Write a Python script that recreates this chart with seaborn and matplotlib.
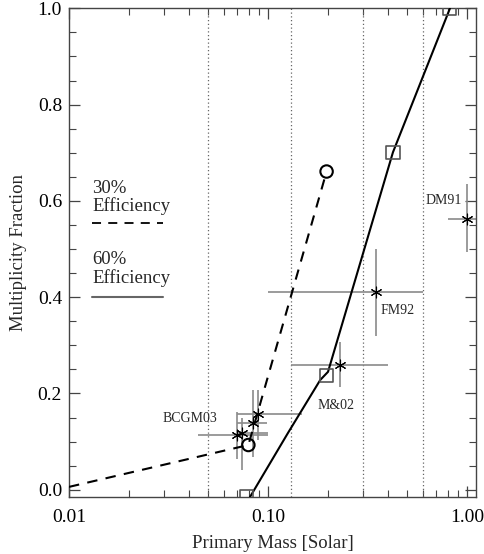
import numpy as np
import pandas as pd
import matplotlib
matplotlib.use("Agg")
import matplotlib.pyplot as plt
import seaborn as sns
from matplotlib.ticker import FixedLocator, LogLocator, NullFormatter, MultipleLocator

# Model curves (30% and 60% detection efficiency)
model30_mass = [0.01, 0.0797, 0.197]
model30_frac = [0.006, 0.093, 0.661]
model60_mass = [0.0812, 0.126, 0.183, 0.2003, 0.4246, 0.8214]
model60_frac = [-0.015, 0.118, 0.228, 0.245, 0.701, 1.0]

# Model points on the curves
circle_mass = [0.0797, 0.197]
circle_frac = [0.093, 0.661]
square_mass = [0.078, 0.1974, 0.425, 0.82]
square_frac = [-0.015, 0.238, 0.70, 1.0]

# Observed multiplicity fractions with error ranges
obs_mass = [0.0696, 0.0738, 0.0844, 0.0887, 0.230, 0.349, 1.0]
obs_mass_lo = [0.0447, 0.0696, 0.0696, 0.0696, 0.130, 0.1003, 0.805]
obs_mass_hi = [0.1003, 0.1003, 0.0985, 0.148, 0.40, 0.603, 1.2]
obs_frac = [0.114, 0.117, 0.138, 0.157, 0.259, 0.411, 0.562]
obs_frac_lo = [0.064, 0.042, 0.069, 0.103, 0.214, 0.319, 0.494]
obs_frac_hi = [0.162, 0.150, 0.207, 0.207, 0.307, 0.501, 0.636]

# Survey labels
survey_names = ["BCGM03", "M&02", "FM92", "DM91"]
survey_x = [0.0555, 0.2197, 0.447, 0.760]
survey_y = [0.148, 0.176, 0.373, 0.601]

# Vertical reference lines
ref_mass = [0.05, 0.13, 0.3, 0.6]

sns.set_style("ticks")
plt.rcParams['font.family'] = ['Liberation Serif', 'DejaVu Serif']

W, H = 484, 554
fig = plt.figure(figsize=(W / 100, H / 100), dpi=100)
ax = fig.add_axes([69 / W, 1 - 497 / H, (476 - 69) / W, (497 - 8.3) / H])

df30 = pd.DataFrame({"mass": model30_mass, "frac": model30_frac})
df60 = pd.DataFrame({"mass": model60_mass, "frac": model60_frac})

for xm in ref_mass:
    ax.axvline(xm, color="#666666", linestyle=(0, (1, 2)), linewidth=0.9, zorder=1)

# Error bars first, stars on top
obs_mass_a = np.array(obs_mass)
obs_frac_a = np.array(obs_frac)
xerr = [obs_mass_a - np.array(obs_mass_lo), np.array(obs_mass_hi) - obs_mass_a]
yerr = [obs_frac_a - np.array(obs_frac_lo), np.array(obs_frac_hi) - obs_frac_a]
ax.errorbar(obs_mass, obs_frac, xerr=xerr, yerr=yerr, fmt='none',
            ecolor="#8a8a8a", elinewidth=1.2, capsize=0, zorder=2)

sns.lineplot(data=df30, x="mass", y="frac", ax=ax, sort=False, estimator=None,
             color="black", linewidth=1.5, linestyle=(0, (5, 4)), zorder=3)
sns.lineplot(data=df60, x="mass", y="frac", ax=ax, sort=False, estimator=None,
             color="black", linewidth=1.5, zorder=3)

sns.scatterplot(x=circle_mass, y=circle_frac, ax=ax, marker='o', s=80,
                facecolor='none', edgecolor='black', linewidth=1.5, zorder=4)
sns.scatterplot(x=square_mass, y=square_frac, ax=ax, marker='s', s=90,
                facecolor='none', edgecolor='#555555', linewidth=1.2, zorder=4)
ax.scatter(obs_mass, obs_frac, marker=(6, 2, 0), s=60, color='black',
           linewidths=0.8, zorder=5)

for name, sx, sy in zip(survey_names, survey_x, survey_y):
    ha = 'right' if name == "BCGM03" else 'center'
    ax.text(sx, sy, name, fontsize=10, ha=ha, va='center')

# Hand-drawn legend
ax.text(0.01305, 0.626, "30%", fontsize=13.5, ha='left', va='center')
ax.text(0.01305, 0.589, "Efficiency", fontsize=13.5, ha='left', va='center')
ax.plot([0.01305, 0.0297], [0.554, 0.554], color='black', linewidth=1.3,
        linestyle=(0, (5, 4)))
ax.text(0.01305, 0.479, "60%", fontsize=13.5, ha='left', va='center')
ax.text(0.01305, 0.440, "Efficiency", fontsize=13.5, ha='left', va='center')
ax.plot([0.01305, 0.0297], [0.400, 0.400], color='#666666', linewidth=1.5)

ax.set_xscale('log')
ax.set_xlim(0.01, 1.11)
ax.set_ylim(-0.015, 1.0)

ax.xaxis.set_major_locator(FixedLocator([0.01, 0.1, 1.0]))
ax.set_xticklabels(["0.01", "0.10", "1.00"])
ax.xaxis.set_minor_locator(LogLocator(base=10, subs=np.arange(2, 10)))
ax.xaxis.set_minor_formatter(NullFormatter())
ax.yaxis.set_minor_locator(MultipleLocator(0.05))
ax.set_yticks([0.0, 0.2, 0.4, 0.6, 0.8, 1.0])
ax.set_yticklabels(["0.0", "0.2", "0.4", "0.6", "0.8", "1.0"])

ax.tick_params(which='both', direction='in', top=True, right=True, colors='#444444',
               labelcolor='black', labelsize=14)
ax.tick_params(which='major', length=8, width=0.9)
ax.tick_params(which='minor', length=5, width=0.8)
ax.tick_params(axis='x', pad=9)
ax.tick_params(axis='y', pad=5)
for sp in ax.spines.values():
    sp.set_color('#444444')
    sp.set_linewidth(1.0)

ax.set_xlabel("Primary Mass [Solar]", fontsize=13.5, labelpad=6)
ax.set_ylabel("Multiplicity Fraction", fontsize=13.5, labelpad=8)

fig.savefig("out.png", dpi=100)
